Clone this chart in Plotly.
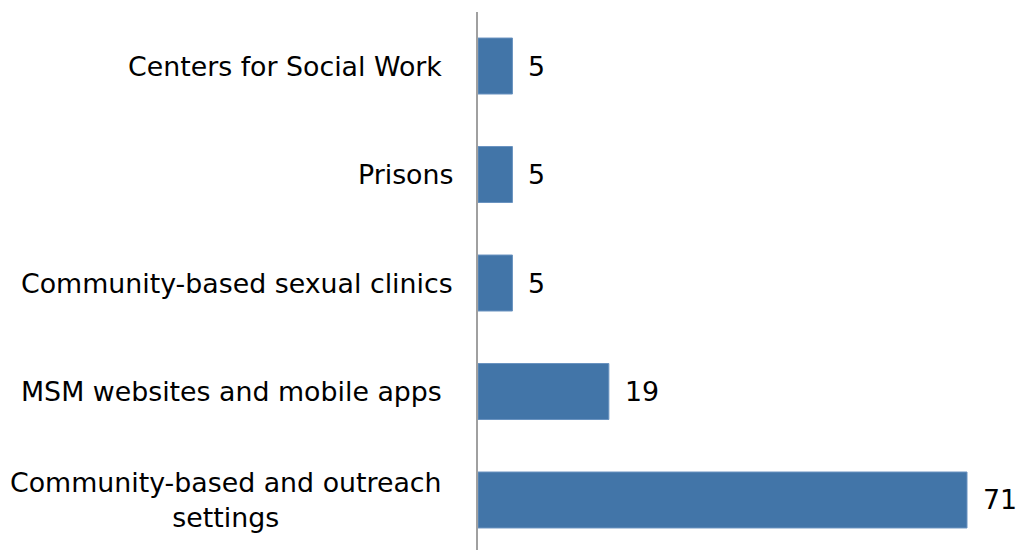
import plotly.graph_objects as go

categories = [
    "Community-based and outreach settings",
    "MSM websites and mobile apps",
    "Community-based sexual clinics",
    "Prisons",
    "Centers for Social Work",
]
label_text = [
    "Community-based and outreach<br>settings",
    "MSM websites and mobile apps\u00a0",
    "Community-based sexual clinics",
    "Prisons",
    "Centers for Social Work\u00a0",
]
label_shift = [-34, -26, -23, -23, -26]
values = [71, 19, 5, 5, 5]

FONT = "DejaVu Sans"
FS = 26.8
BAR = "#4275A8"

fig = go.Figure()
fig.add_trace(go.Bar(
    y=categories, x=values, orientation="h",
    marker=dict(color=BAR, line=dict(color="#6A93C0", width=1)),
    hoverinfo="skip",
))

annotations = []
for i, (lab, v, sh) in enumerate(zip(label_text, values, label_shift)):
    annotations.append(dict(
        xref="paper", yref="y", x=0, y=i, text=lab,
        xanchor="right", yanchor="middle", align="center",
        xshift=sh, showarrow=False,
        font=dict(family=FONT, size=FS, color="#000000"),
    ))
    annotations.append(dict(
        xref="x", yref="y", x=v, y=i, text=str(v),
        xanchor="left", yanchor="middle", xshift=14, showarrow=False,
        font=dict(family=FONT, size=FS, color="#000000"),
    ))

fig.update_layout(
    width=1017, height=550,
    margin=dict(l=478, r=0, t=12, b=0),
    paper_bgcolor="white", plot_bgcolor="white",
    bargap=0.484, showlegend=False,
    xaxis=dict(visible=False, range=[0, 78.26], fixedrange=True),
    yaxis=dict(
        type="category", categoryorder="array", categoryarray=categories,
        range=[-0.461, 4.498], showticklabels=False, ticks="",
        showline=True, linecolor="#A0A0A0", linewidth=2,
        showgrid=False, zeroline=False,
    ),
    annotations=annotations,
)

fig.write_html("out.html")
